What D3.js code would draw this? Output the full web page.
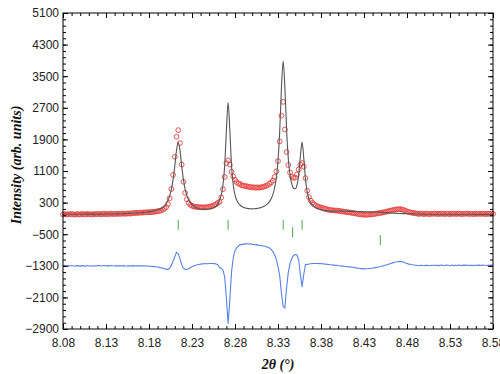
<!DOCTYPE html>
<html>
<head>
<meta charset="utf-8">
<script src="https://cdn.jsdelivr.net/npm/d3@7"></script>
<style>
  body { margin: 0; background: #fff; }
  svg { display: block; }
  .tick text { font-family: "Liberation Sans", Arial, sans-serif; font-size: 12px; fill: #222; }
  .title { font-family: "Liberation Serif", "Times New Roman", serif; font-size: 14px; font-weight: bold; font-style: italic; fill: #111; }
</style>
</head>
<body>
<svg id="chart" width="500" height="374"></svg>
<script>
// 2theta sampling grid of the pattern
const startDeg = 8.08;
const stepDeg = 0.002;

// observed intensity (red circles), one value per grid step
const observed = [
  2,10,-4,8,0,12,3,-6,9,4,-2,11,6,0,13,2,8,-3,10,5,12,
  14,4,11,18,6,15,9,20,13,8,19,12,22,14,25,16,20,28,19,30,
  38,33,44,38,47,44,52,50,58,
  55,59,63,68,74,81,90,101,121,147,187,
  265,408,644,1000,1461,1966,2134,1808,1264,826,546,382,295,245,220,204,192,188,184,182,181,179,183,183,194,206,216,236,258,291,
  320,430,640,950,1300,1370,1260,1080,960,880,820,780,770,735,732,712,715,695,700,680,690,676,688,675,690,692,710,722,745,
  775,810,860,950,1090,1350,1850,2500,2850,2150,1580,1250,1060,960,925,935,1010,1140,1260,1300,1210,920,600,440,350,295,255,228,205,188,175,
  162,144,138,121,118,105,107,97,99,90,89,76,75,63,62,51,50,39,38,
  28,14,11,1,0,-8,-5,-8,-1,-1,7,10,21,25,36,40,52,57,71,78,92,99,114,119,130,130,135,125,115,93,78,60,54,40,35,28,
  21,13,25,16,10,22,15,7,20,14,26,12,18,9,23,15,11,21,17,6,24,13,19,10,22,16,8,20,14,25,11,18,15,7,23,13,19,12,21,15,10,18,14,22,16
];

// calculated profile (grey line)
const calculated = [
  5,5,5,5,5,6,6,6,6,6,6,6,7,7,7,7,7,8,8,8,8,
  9,9,9,10,10,11,11,12,12,13,15,16,17,19,20,22,24,26,28,31,
  34,36,39,41,44,47,51,55,60,65,71,78,88,99,113,130,151,181,219,272,
  360,468,634,880,1231,1626,1824,1628,1234,886,641,477,370,295,245,209,182,163,149,140,133,129,128,131,136,146,159,181,213,261,
  363,497,745,1232,2123,2833,2123,1231,745,496,362,283,233,200,178,164,153,147,143,142,145,147,153,162,173,189,209,237,273,
  324,396,501,663,923,1362,2110,3199,3880,3215,2140,1412,998,772,665,650,736,986,1472,1832,1422,882,567,396,298,238,197,170,148,133,121,
  109,101,95,89,85,83,84,85,86,88,86,84,82,81,80,79,78,77,76,75,74,74,73,72,70,69,68,67,66,63,
  62,61,60,58,56,53,50,47,44,42,37,34,31,28,25,23,22,21,20,18,17,16,15,14,13,12,11,10,9,7,
  6,6,6,5,5,5,5,5,5,5,5,5,5,4,4,4,4,4,4,4,4,4,4,4,4,4,4,3,3,3,3,3,3,3,3,3,3,3,3,3
];

// Bragg reflection positions, one list per row of markers
const braggRows = [
  [8.214, 8.272, 8.336, 8.358],
  [8.347],
  [8.449]
];

const diffOffset = -1300;

const xTickLabels = ["8.08","8.13","8.18","8.23","8.28","8.33","8.38","8.43","8.48","8.53","8.58"];
const yTickLabels = [5100, 4300, 3500, 2700, 1900, 1100, 300, -500, -1300, -2100, -2900];

const svg = d3.select("#chart");
const margin = {left: 63, top: 13, right: 7, bottom: 45};
const W = 500, H = 374;
const innerBottom = H - margin.bottom;   // 329
const innerRight = W - margin.right;     // 493

const x = d3.scaleLinear().domain([8.08, 8.58]).range([margin.left, innerRight]);
const y = d3.scaleLinear().domain([-2900, 5100]).range([innerBottom, margin.top]);

const pts = observed.map((o, i) => ({
  t: startDeg + stepDeg * i,
  obs: o,
  calc: calculated[i]
}));

// observed circles
svg.append("g")
  .selectAll("circle")
  .data(pts)
  .join("circle")
  .attr("cx", d => x(d.t))
  .attr("cy", d => y(d.obs))
  .attr("r", 2.4)
  .attr("fill", "none")
  .attr("stroke", "#e8413f")
  .attr("stroke-width", 0.9);

// calculated line
svg.append("path")
  .datum(pts)
  .attr("fill", "none")
  .attr("stroke", "#555")
  .attr("stroke-width", 1.1)
  .attr("d", d3.line().x(d => x(d.t)).y(d => y(d.calc)).curve(d3.curveMonotoneX));

// difference line
svg.append("path")
  .datum(pts)
  .attr("fill", "none")
  .attr("stroke", "#5a82e6")
  .attr("stroke-width", 1.1)
  .attr("d", d3.line().x(d => x(d.t)).y(d => y(d.obs - d.calc + diffOffset)));

// bragg markers
const rowCentre = [-260, -450, -650];
braggRows.forEach((row, r) => {
  svg.append("g")
    .selectAll("line")
    .data(row)
    .join("line")
    .attr("x1", d => x(d)).attr("x2", d => x(d))
    .attr("y1", y(rowCentre[r]) - 5).attr("y2", y(rowCentre[r]) + 5)
    .attr("stroke", "#4fa64f")
    .attr("stroke-width", 1);
});

// axes
const xMajor = xTickLabels.map(Number);
const xMinor = d3.range(0, 51).map(i => 8.08 + i * 0.01);
const yMinor = d3.range(0, 51).map(i => -2900 + i * 160);

function styleAxis(g) {
  g.select(".domain").remove();
  g.selectAll(".tick line").attr("stroke", "#000");
}

svg.append("g").attr("transform", `translate(0,${innerBottom})`)
  .call(d3.axisBottom(x).tickValues(xMinor).tickSize(-3).tickFormat(""))
  .call(styleAxis);
svg.append("g").attr("transform", `translate(0,${innerBottom})`)
  .call(d3.axisBottom(x).tickValues(xMajor).tickSize(-5).tickPadding(9).tickFormat(d3.format(".2f")))
  .call(styleAxis);
svg.append("g").attr("transform", `translate(0,${margin.top})`)
  .call(d3.axisTop(x).tickValues(xMinor).tickSize(-3).tickFormat(""))
  .call(styleAxis);
svg.append("g").attr("transform", `translate(0,${margin.top})`)
  .call(d3.axisTop(x).tickValues(xMajor).tickSize(-5).tickFormat(""))
  .call(styleAxis);

svg.append("g").attr("transform", `translate(${margin.left},0)`)
  .call(d3.axisLeft(y).tickValues(yMinor).tickSize(-3).tickFormat(""))
  .call(styleAxis);
svg.append("g").attr("transform", `translate(${margin.left},0)`)
  .call(d3.axisLeft(y).tickValues(yTickLabels).tickSize(-5).tickPadding(4).tickFormat(d3.format("d")))
  .call(styleAxis);
svg.append("g").attr("transform", `translate(${innerRight},0)`)
  .call(d3.axisRight(y).tickValues(yMinor).tickSize(-3).tickFormat(""))
  .call(styleAxis);
svg.append("g").attr("transform", `translate(${innerRight},0)`)
  .call(d3.axisRight(y).tickValues(yTickLabels).tickSize(-5).tickFormat(""))
  .call(styleAxis);

// frame
svg.append("rect")
  .attr("x", margin.left).attr("y", margin.top)
  .attr("width", innerRight - margin.left).attr("height", innerBottom - margin.top)
  .attr("fill", "none").attr("stroke", "#000").attr("stroke-width", 1);

// titles
svg.append("text").attr("class", "title")
  .attr("x", (margin.left + innerRight) / 2).attr("y", 369)
  .attr("text-anchor", "middle")
  .text("2θ (°)");

svg.append("text").attr("class", "title")
  .attr("transform", "translate(21,165) rotate(-90)")
  .attr("text-anchor", "middle")
  .text("Intensity (arb. units)");
</script>
</body>
</html>
